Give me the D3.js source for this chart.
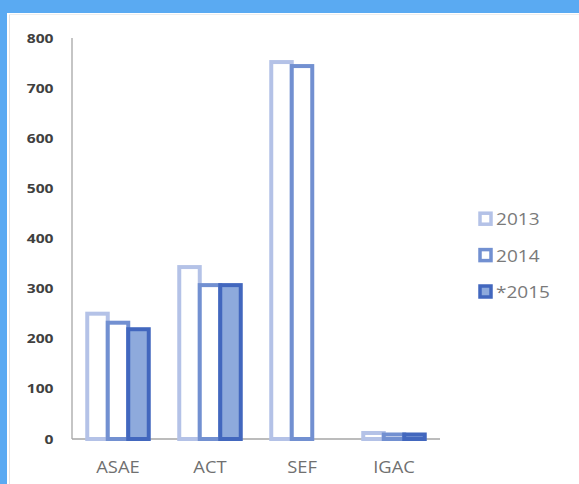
<!DOCTYPE html>
<html><head><meta charset="utf-8">
<script src="https://cdn.jsdelivr.net/npm/d3@7"></script>
<style>html,body{margin:0;padding:0;background:#fff;}svg{display:block;}</style>
</head><body>
<script>
const categories = ["ASAE", "ACT", "SEF", "IGAC"];
const seriesNames = ["2013", "2014", "*2015"];
const values2013 = [250, 343, 752, 12];
const values2014 = [232, 307, 744, 9];
const values2015 = [219, 307, 0, 9];
const yTicks = [0, 100, 200, 300, 400, 500, 600, 700, 800];

const seriesValues = [values2013, values2014, values2015];
const strokes = ["#b4c2e7", "#7290d1", "#4267be"];
const fills = ["#ffffff", "#ffffff", "#8eaadc"];

const W = 579, H = 484;
const svg = d3.select("body").append("svg").attr("width", W).attr("height", H);

// frame
svg.append("rect").attr("x", 0).attr("y", 0).attr("width", W).attr("height", H).attr("fill", "#fff");
svg.append("rect").attr("x", 0).attr("y", 0).attr("width", W).attr("height", 13).attr("fill", "#5aaaf2");
svg.append("rect").attr("x", 0).attr("y", 0).attr("width", 7).attr("height", H).attr("fill", "#5aaaf2");
svg.append("line").attr("x1", 9.5).attr("x2", 9.5).attr("y1", 14).attr("y2", H).attr("stroke", "#e4e4e4").attr("stroke-width", 1);
svg.append("line").attr("x1", 9).attr("x2", W).attr("y1", 14.5).attr("y2", 14.5).attr("stroke", "#eeeeee").attr("stroke-width", 1);

const y = d3.scaleLinear().domain([0, 800]).range([439, 38]);
const x0 = d3.scaleBand().domain(categories).range([72, 440]).padding(0);
const x1 = d3.scaleBand().domain(seriesNames).range([15.25, 76.75]).padding(0);

function stretchedText(g, tx, ty, txt, anchor, sx) {
  return g.append("text").attr("transform", `translate(${tx},${ty}) scale(${sx},1)`)
    .attr("text-anchor", anchor).text(txt);
}

// y tick labels
const yl = svg.append("g").attr("font-family", "'Open Sans', sans-serif").attr("font-size", 13)
  .attr("font-weight", 700).attr("fill", "#404040");
yTicks.forEach(t => stretchedText(yl, 53.5, y(t) + 4.5, String(t), "end", 1.2));

// axes lines
svg.append("line").attr("x1", 72).attr("x2", 72).attr("y1", y(800)).attr("y2", y(0))
  .attr("stroke", "#a6a6a6").attr("stroke-width", 1.3);
svg.append("line").attr("x1", 72).attr("x2", 440).attr("y1", y(0)).attr("y2", y(0))
  .attr("stroke", "#a6a6a6").attr("stroke-width", 1.3);

// bars
categories.forEach((c, ci) => {
  seriesNames.forEach((s, si) => {
    const v = seriesValues[si][ci];
    if (v <= 0) return;
    svg.append("rect")
      .attr("x", x0(c) + x1(s))
      .attr("y", y(v))
      .attr("width", x1.bandwidth())
      .attr("height", y(0) - y(v))
      .attr("fill", fills[si])
      .attr("stroke", strokes[si])
      .attr("stroke-width", 4);
  });
});

// category labels
const xl = svg.append("g").attr("font-family", "'Open Sans', sans-serif").attr("font-size", 17)
  .attr("fill", "#707070");
categories.forEach(c => stretchedText(xl, x0(c) + x0.bandwidth() / 2, 473, c, "middle", 1.08));

// legend
const legY = [218.7, 255.1, 291.5];
const lg = svg.append("g");
seriesNames.forEach((s, i) => {
  lg.append("rect").attr("x", 480).attr("y", legY[i] - 5.5).attr("width", 11).attr("height", 11)
    .attr("fill", fills[i]).attr("stroke", strokes[i]).attr("stroke-width", 3.5);
  const t = stretchedText(lg, 496, legY[i] + 6.5, s, "start", 1.12);
  t.attr("font-family", "'Open Sans', sans-serif").attr("font-size", 17).attr("fill", "#7a7a7a");
});
</script>
</body></html>
